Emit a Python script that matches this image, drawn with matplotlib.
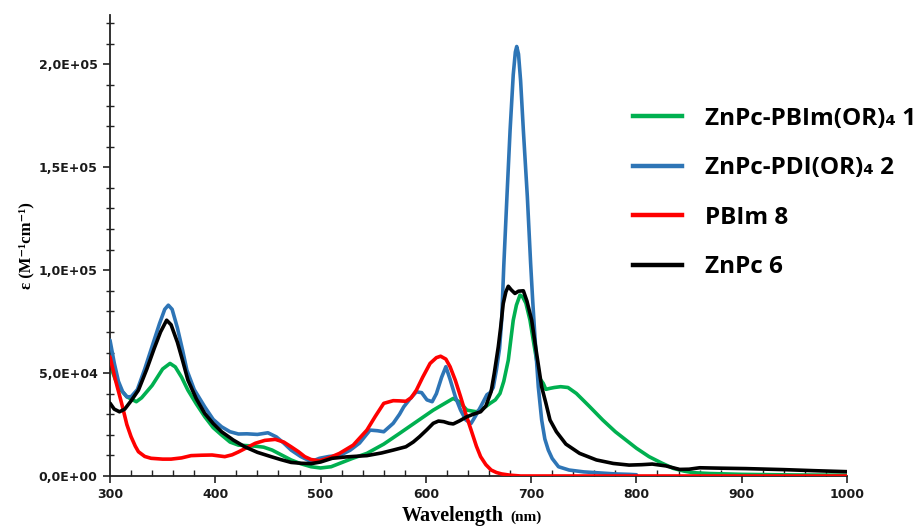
import matplotlib
matplotlib.use("Agg")
import matplotlib.pyplot as plt
from matplotlib.lines import Line2D
from matplotlib.ticker import MultipleLocator, FuncFormatter

# ---------------- data ----------------
green_nm = [300, 305, 310, 316, 325, 330, 340, 350, 357, 362, 368, 374, 382, 390, 398, 406,
            414, 422, 438, 446, 454, 463, 472, 481, 491, 500, 510, 518, 530, 544, 560, 575,
            590, 607, 617, 626, 632, 639, 648, 655, 661, 666, 670.4, 674, 678.3, 683, 686,
            689.4, 692, 695, 698.9, 702, 705.2, 708, 711.5, 714, 718, 722, 728, 735, 743,
            755, 768, 780, 790, 800, 812, 824, 835, 845, 854, 870, 900, 950, 1000]
green_eps = [53900, 47000, 42000, 38500, 36100, 38000, 44000, 52000, 54700, 53000, 48000,
             41700, 35000, 28800, 23500, 19900, 16500, 15000, 14500, 14000, 12600, 10200,
             7800, 6000, 4500, 3900, 4500, 6100, 8500, 11000, 15500, 20700, 26000, 32000,
             35000, 37700, 36000, 32000, 31200, 33000, 35300, 37000, 40100, 46000, 56300,
             75700, 83000, 87900, 87000, 84000, 75700, 66000, 56300, 47500, 45000, 42100,
             42600, 43000, 43400, 43000, 40100, 34000, 27200, 21500, 17500, 13500, 9400,
             6300, 3700, 2400, 1600, 1200, 800, 500, 400]

blue_nm = [300, 304, 308, 312, 316, 320, 326, 333, 340, 347, 352, 355.4, 359, 364, 369, 373,
           380, 390, 398, 406, 414, 422, 430, 440, 450, 458, 465, 472, 481, 491, 499, 508,
           518, 528, 537, 547, 554, 560, 569, 575, 579, 585, 591, 596, 601, 606, 610, 615,
           619, 623, 628, 633, 638, 643, 647, 652, 658, 661, 664, 667, 670, 672, 674, 677,
           680, 683, 685, 686.3, 688, 690, 692.6, 696.4, 699.5, 701.5, 703.6, 706.8, 710,
           713, 716.3, 720, 726, 736, 750, 762, 780, 793, 800]
blue_eps = [66000, 55000, 46000, 41000, 38500, 38500, 42000, 52000, 63000, 74000, 81000,
            83000, 81000, 72000, 61000, 51500, 42000, 33600, 27500, 23900, 21500, 20400,
            20500, 20200, 21000, 19000, 16000, 12600, 9500, 7000, 8600, 9500, 9900, 12500,
            16000, 22300, 22000, 21500, 25600, 30000, 33600, 37500, 40900, 40500, 37000,
            36100, 40000, 48000, 53100, 47000, 38500, 32000, 27200, 25600, 29000, 33600,
            39500, 40500, 43000, 51500, 62000, 75700, 102000, 135600, 168000, 195000,
            206000, 208700, 205000, 192000, 168000, 135600, 103400, 85000, 67600, 43300,
            27200, 18000, 12600, 8500, 4500, 2900, 2000, 1600, 1000, 800, 600]

red_nm = [300, 305, 311, 316, 320, 324, 327, 333, 339, 350, 358, 368, 377, 387, 397, 403,
          409, 416, 422, 430, 438, 447, 457, 465, 472, 479, 485, 491, 499, 508, 518, 531,
          544, 552, 560, 569, 575, 581, 586, 591, 597, 604, 610, 614, 619, 623, 628, 633,
          638, 643, 648, 652, 657, 662, 667, 672, 680, 690, 1000]
red_eps = [57900, 47000, 35400, 25000, 19100, 14500, 11800, 9500, 8600, 8200, 8200, 8800,
           9900, 10100, 10200, 9800, 9400, 10300, 11700, 13800, 15900, 17300, 17800, 16500,
           14200, 11800, 9400, 8000, 7400, 8800, 11000, 15000, 22300, 29000, 35300, 36600,
           36500, 36300, 38000, 41700, 48000, 54700, 57500, 58200, 56800, 53100, 46500,
           38500, 30000, 22300, 14500, 9400, 5500, 2900, 1700, 1000, 400, 0, 0]

black_nm = [300, 304, 309, 314, 320, 327, 335, 342, 348, 353.8, 358, 364, 369, 374, 382, 390,
            398, 406, 417, 428, 440, 453, 462, 472, 481, 491, 500, 511, 525, 544, 558, 569,
            581, 588, 594, 601, 607, 612, 617, 622, 626, 632, 639, 645, 652, 657, 662, 665,
            668.8, 671, 673.5, 676, 678.3, 681, 684.6, 688, 692.6, 696, 700.5, 705.2, 710,
            714, 717.9, 724, 733, 746, 762, 778, 793, 805, 815, 828, 841, 850, 860, 880, 904,
            940, 968, 1000]
black_eps = [35400, 32500, 31200, 32500, 36500, 41700, 52000, 62000, 70000, 75700, 73500,
             65000, 56000, 46600, 37500, 30400, 25500, 21500, 17500, 14200, 11500, 9400,
             8000, 6600, 6200, 6000, 6800, 8600, 9300, 9900, 11200, 12600, 14200, 16500,
             19100, 22500, 25600, 26700, 26400, 25600, 25300, 26800, 28800, 30000, 31200,
             34000, 41000, 50000, 62800, 72000, 83800, 89500, 92200, 90500, 88700, 89800,
             90000, 85000, 75700, 59500, 43300, 35400, 27200, 21500, 15500, 11000, 7800,
             6100, 5300, 5500, 5800, 4900, 3200, 3300, 4000, 3800, 3600, 3100, 2600, 2100]

labels = ["ZnPc-PBIm(OR)\u2084 1", "ZnPc-PDI(OR)\u2084 2", "PBIm 8", "ZnPc 6"]
colors = ["#00B050", "#2E75B6", "#FF0000", "#000000"]

xticks = [300, 400, 500, 600, 700, 800, 900, 1000]
yticks = [0, 50000, 100000, 150000, 200000]

# ---------------- figure ----------------
fig = plt.figure(figsize=(9.23, 5.27), dpi=100)
ax = fig.add_axes([110 / 923, 51 / 527, 737 / 923, 461 / 527])

series = [(green_nm, green_eps), (blue_nm, blue_eps), (red_nm, red_eps), (black_nm, black_eps)]
# draw order: green, red, blue, black on top
order = [0, 2, 1, 3]
for i in order:
    xs, ys = series[i]
    ax.plot(xs, ys, color=colors[i], lw=2.6, solid_joinstyle="round",
            solid_capstyle="round", zorder=2 + i)

ax.set_xlim(300, 1000)
ax.set_ylim(0, 224000)
ax.set_xticks(xticks)
ax.set_yticks(yticks)
ax.xaxis.set_minor_locator(MultipleLocator(20))
ax.yaxis.set_minor_locator(MultipleLocator(10000))
ax.yaxis.set_major_formatter(FuncFormatter(lambda v, p: f"{v:.1E}".replace(".", ",")))

for s in ["top", "right"]:
    ax.spines[s].set_visible(False)
for s in ["left", "bottom"]:
    ax.spines[s].set_linewidth(1.3)
    ax.spines[s].set_color("#222222")

ax.tick_params(axis="both", which="major", direction="out", length=5, width=1.2,
               color="#222222", labelsize=9, labelcolor="#1a1a1a", pad=4)
ax.tick_params(axis="x", which="minor", direction="in", length=4, width=1.0, color="#222222")
ax.tick_params(axis="y", which="minor", direction="inout", length=6, width=1.0, color="#222222")
for lab in ax.get_xticklabels() + ax.get_yticklabels():
    lab.set_fontweight("bold")
    lab.set_family("DejaVu Sans")

# axis labels
ax.text((26 - 110) / 737, 0.5, "\u03b5 (M\u207b\u00b9cm\u207b\u00b9)", transform=ax.transAxes,
        rotation=90, ha="center", va="center", fontsize=12, fontweight="bold",
        family=["Liberation Serif", "DejaVu Serif"])
fig.text(504 / 923, 1 - 521 / 527, "Wavelength", ha="right", va="baseline",
         fontsize=14.5, fontweight="bold", family=["Liberation Serif", "DejaVu Serif"])
fig.text(510 / 923, 1 - 521 / 527, "(nm)", ha="left", va="baseline",
         fontsize=11, fontweight="bold", family=["Liberation Serif", "DejaVu Serif"])

# legend
handles = [Line2D([], [], color=c, lw=3.2) for c in colors]
leg = fig.legend(handles, labels, loc="center left", bbox_to_anchor=(633 / 923, 1 - 193 / 527),
                 frameon=False, borderpad=0, borderaxespad=0, handlelength=2.0,
                 handletextpad=0.95, labelspacing=1.05,
                 prop={"family": ["Open Sans", "DejaVu Sans"], "weight": "bold", "size": 17.5})

fig.savefig("out.png", dpi=100)
